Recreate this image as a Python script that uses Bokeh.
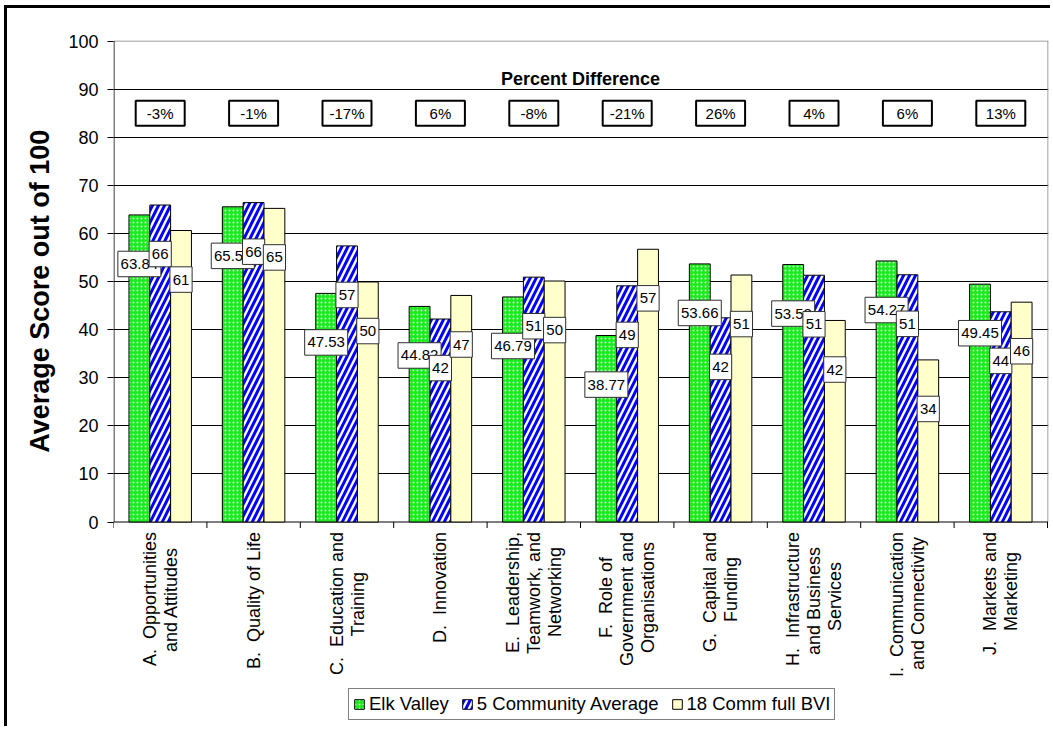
import math

from bokeh.core.properties import value
from bokeh.embed import file_html
from bokeh.models import FixedTicker, Legend, LegendItem, Range1d
from bokeh.plotting import figure
from bokeh.resources import INLINE

# ---- data -------------------------------------------------------------
categories = [
    "A.  Opportunities\nand Attitudes",
    "B.  Quality of Life",
    "C.  Education and\nTraining",
    "D.  Innovation",
    "E.  Leadership,\nTeamwork, and\nNetworking",
    "F.  Role of\nGovernment and\nOrganisations",
    "G.  Capital and\nFunding",
    "H.  Infrastructure\nand Business\nServices",
    "I.  Communication\nand Connectivity",
    "J.  Markets and\nMarketing",
]
elk_valley = [63.84, 65.53, 47.53, 44.82, 46.79, 38.77, 53.66, 53.53, 54.27, 49.45]
five_community = [65.9, 66.4, 57.4, 42.2, 50.9, 49.1, 42.45, 51.3, 51.4, 43.7]
full_bvi = [60.6, 65.2, 49.9, 47.1, 50.1, 56.7, 51.35, 41.9, 33.7, 45.7]
pct_diff = [-3, -1, -17, 6, -8, -21, 26, 4, 6, 13]
series_names = ["Elk Valley", "5 Community Average", "18 Comm full BVI"]
y_ticks = [0, 10, 20, 30, 40, 50, 60, 70, 80, 90, 100]
y_title = "Average Score out of 100"

FONT = "Liberation Sans"
BAR_W = 0.223
LABEL_DROP = 10.2      # data labels sit a little below each bar top
PCT_ROW = 85           # height of the percent-difference row
HEADING_Y = 92.1
TITLE_SIZE = 27

# geometry of the drawing area (pixels)
FRAME_W, FRAME_H = 935, 689
PX_PER_Y = 4.81                      # pixels per score point
Y_MIN, Y_MAX = y_ticks[0], y_ticks[-1]
TITLE_RAISE = 93                     # lift of the value-axis title above frame centre

n = len(categories)
xc = list(range(n))
px_per_x = (FRAME_W - 1) / n
x_lo, x_hi = -0.5, n - 0.5 + 1 / px_per_x
y_hi = Y_MAX + 0.5 / PX_PER_Y
y_lo = y_hi - FRAME_H / PX_PER_Y

NBSP = "\u00a0"

# Approximate advance widths (1/1000 em) of the sans face, used to centre
# wrapped lines and to size the value boxes.
_W = dict(zip("ABCDEFGHIJKLMNOPQRSTUVWXYZ",
              [667, 667, 722, 722, 667, 611, 778, 722, 278, 500, 667, 556, 833,
               722, 778, 667, 778, 722, 667, 611, 722, 667, 944, 667, 667, 611]))
_W.update(zip("abcdefghijklmnopqrstuvwxyz",
              [556, 556, 500, 556, 556, 278, 556, 556, 222, 222, 500, 222, 833,
               556, 556, 556, 556, 333, 500, 278, 556, 500, 722, 500, 500, 500]))
_W.update({" ": 278, ".": 278, ",": 278, NBSP: 278, "-": 333, "%": 889})


def _width(s):
    return sum(_W.get(c, 556) for c in s)


def centred(label):
    lines = [ln.replace("  ", " " + NBSP) for ln in label.split("\n")]
    widest = max(_width(ln) for ln in lines)
    out = []
    for ln in lines:
        pad = round((widest - _width(ln)) / 2 / 278)
        out.append(ln + NBSP * pad)
    return "\n".join(out)


p = figure(
    width=1046, height=721,
    x_range=Range1d(x_lo, x_hi), y_range=Range1d(y_lo, y_hi),
    x_axis_location=None,
    output_backend="svg", toolbar_location=None,
    min_border_left=106, min_border_right=5, min_border_top=32, min_border_bottom=0,
)
p.styles = {
    "border-left": "3px solid black",
    "border-top": "3px solid black",
    "margin-left": "4px",
    "margin-top": "5px",
}
p.background_fill_color = "white"
p.border_fill_color = "white"
p.outline_line_color = None

# ---- y axis and grid ---------------------------------------------------
p.xgrid.visible = False
p.ygrid.grid_line_color = "black"
p.ygrid.grid_line_width = 1
p.ygrid.ticker = FixedTicker(ticks=y_ticks[1:-1])

yax = p.yaxis[0]
yax.ticker = FixedTicker(ticks=y_ticks)
yax.axis_line_color = None
yax.major_tick_in = 0
yax.major_tick_out = 6
yax.major_tick_line_color = "black"
yax.minor_tick_line_color = None
yax.major_label_standoff = 9
yax.major_label_text_font = FONT
yax.major_label_text_font_size = "18px"
yax.major_label_text_color = "black"
# leading no-break spaces lift the centred title towards the 0-100 band
title_pad = round(2 * TITLE_RAISE / (0.278 * TITLE_SIZE))
yax.axis_label = NBSP * title_pad + y_title
yax.axis_label_text_font = FONT
yax.axis_label_text_font_size = f"{TITLE_SIZE}px"
yax.axis_label_text_font_style = "bold"
yax.axis_label_text_color = "black"
yax.axis_label_standoff = 10

# plot-area border (grey top/right), value axis line and category axis line
p.segment(x0=[x_lo, x_hi - 0.5 / px_per_x], y0=[Y_MAX, Y_MIN],
          x1=[x_hi, x_hi - 0.5 / px_per_x], y1=[Y_MAX, Y_MAX],
          line_color="#808080", line_width=1)
p.segment(x0=[x_lo + 0.5 / px_per_x, x_lo], y0=[Y_MIN, Y_MIN],
          x1=[x_lo + 0.5 / px_per_x, x_hi - 0.5 / px_per_x], y1=[Y_MAX, Y_MIN],
          line_color="black", line_width=1)

# category tick marks between the groups
bounds = [i - 0.5 for i in range(n + 1)]
p.segment(x0=bounds, y0=[Y_MIN] * len(bounds), x1=bounds,
          y1=[Y_MIN - 6 / PX_PER_Y] * len(bounds), line_color="black", line_width=1)

# category names, read upwards, block ending just under the axis
p.text(x=xc, y=[Y_MIN - 10 / PX_PER_Y] * n, text=[centred(c) for c in categories],
       angle=math.pi / 2, text_align="right", text_baseline="middle",
       text_font=value(FONT), text_font_size="18px", text_color="black",
       text_line_height=1.05)

# ---- bars --------------------------------------------------------------
offsets = [-BAR_W, 0.0, BAR_W]
styles = [
    dict(fill_color="#1ee81e", hatch_pattern="dot", hatch_color="#c8ffc8",
         hatch_scale=4, hatch_weight=1.5),
    dict(fill_color="white", hatch_pattern="right_diagonal_line", hatch_color="#0000ff",
         hatch_scale=12, hatch_weight=3),
    dict(fill_color="#ffffcc"),
]
all_series = [elk_valley, five_community, full_bvi]
renderers = []
for vals, off, st in zip(all_series, offsets, styles):
    r = p.vbar(x=[x + off for x in xc], top=vals, width=BAR_W, bottom=Y_MIN,
               line_color="black", line_width=1, **st)
    renderers.append(r)

# ---- value boxes (green first, then blue, then yellow on top) ---------
fmts = ["{:.2f}", "{:.0f}", "{:.0f}"]
for vals, off, fmt in zip(all_series, offsets, fmts):
    texts = [fmt.format(v) for v in vals]
    bx = [x + off for x in xc]
    by = [v - LABEL_DROP for v in vals]
    p.rect(x=bx, y=by, width=[_width(t) * 15 / 1000 + 5.5 for t in texts], height=25.5,
           width_units="screen", height_units="screen",
           fill_color="white", line_color="#303030", line_width=1)
    p.text(x=bx, y=by, text=texts, text_align="center", text_baseline="middle",
           text_font=value(FONT), text_font_size="15px", text_color="black")

# ---- percent difference row -------------------------------------------
p.rect(x=xc, y=[PCT_ROW] * n, width=49, height=25,
       width_units="screen", height_units="screen",
       fill_color="white", line_color="black", line_width=2)
p.text(x=xc, y=[PCT_ROW] * n, text=[f"{d}%" for d in pct_diff],
       text_align="center", text_baseline="middle",
       text_font=value(FONT), text_font_size="15px", text_color="black")
p.text(x=[(n - 1) / 2], y=[HEADING_Y], text=["Percent Difference"],
       text_align="center", text_baseline="middle",
       text_font=value(FONT), text_font_size="18px", text_font_style="bold",
       text_color="black")

# ---- legend ------------------------------------------------------------
legend = Legend(
    items=[LegendItem(label=name, renderers=[r]) for name, r in zip(series_names, renderers)],
    orientation="horizontal", location=(235, 9),
    label_text_font=FONT, label_text_font_size="18.5px", label_text_color="black",
    glyph_width=12, glyph_height=12, label_standoff=4, spacing=12, padding=4,
    border_line_color="black", border_line_width=1, background_fill_color="white",
    label_height=16, margin=0,
)
p.add_layout(legend, "center")

open("out.html", "w").write(file_html(p, INLINE))
